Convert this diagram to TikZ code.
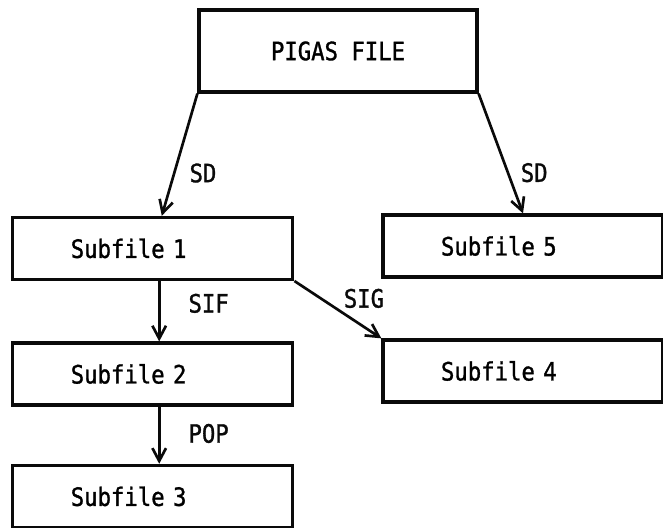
\documentclass[tikz,border=0pt]{standalone}
\usepackage{fontspec}
\usepackage{xcolor}
\usepackage{tikz}
\usetikzlibrary{arrows.meta, positioning, calc}
\newfontfamily\printfont[FakeStretch=0.88, FakeBold=1.2]{DejaVu Sans Mono}
\definecolor{inkblack}{RGB}{10,10,10}
\tikzset{
  filebox/.style={rectangle, draw=inkblack, line width=2.3pt,
    minimum width=70mm, minimum height=15.5mm, inner xsep=14.5mm,
    text width=41mm, align=left, font=\fontsize{18}{21}\printfont},
  topbox/.style={rectangle, draw=inkblack, line width=2.3pt,
    minimum width=69.5mm, minimum height=20.5mm, text centered,
    font=\fontsize{18}{21}\printfont},
  arrow/.style={->, >={Straight Barb[length=3.2mm, width=3.4mm]}, line width=1.9pt, inkblack},
  lbl/.style={font=\fontsize{18}{21}\printfont, text=inkblack, inner sep=0pt}
}
\begin{document}
\begin{tikzpicture}
  \useasboundingbox (0,0) rectangle (165.75mm,132mm);
  \node[topbox] (pigas) at (84.5mm,119.25mm) {PIGAS FILE};
  \node[filebox] (sub1) at (38.2mm,69.9mm) {Subfile 1};
  \node[filebox] (sub5) at (130.75mm,70.5mm) {Subfile 5};
  \node[filebox] (sub2) at (38.2mm,38.5mm) {Subfile 2};
  \node[filebox] (sub4) at (130.75mm,39.25mm) {Subfile 4};
  \node[filebox] (sub3) at (38.2mm,7.9mm) {Subfile 3};
  % pigas file splits
  \draw[arrow] (pigas.south west) -- ([xshift=2.25mm]sub1.north) node[lbl, pos=.65, right=3.5mm] {SD};
  \draw[arrow] (pigas.south east) -- (sub5.north) node[lbl, pos=.66, right=2.9mm] {SD};
  % subfile 1 splits
  \draw[arrow] ([xshift=1.6mm]sub1.south) -- ([xshift=1.6mm]sub2.north) node[lbl, pos=.37, right=7mm] {SIF};
  \draw[arrow] (sub1.south east) -- (sub4.north west) node[lbl, pos=.8, above=4.4mm] {SIG};
  \draw[arrow] ([xshift=1.6mm]sub2.south) -- ([xshift=1.6mm]sub3.north) node[lbl, pos=.47, right=7mm] {POP};
\end{tikzpicture}
\end{document}
